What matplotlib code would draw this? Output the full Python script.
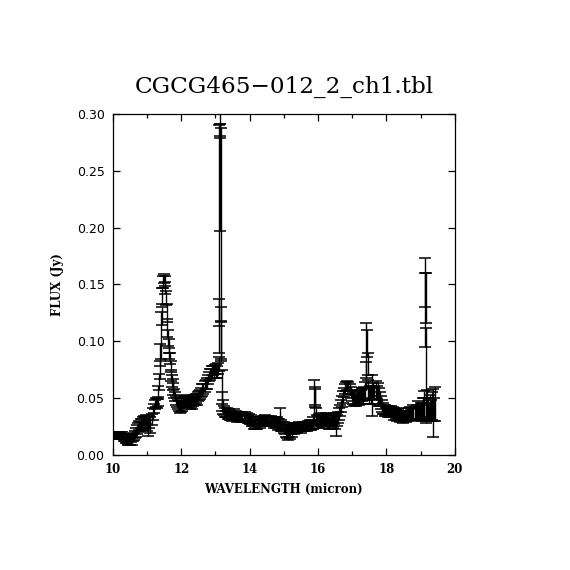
import matplotlib
matplotlib.use("Agg")
import matplotlib.pyplot as plt
from matplotlib.ticker import MultipleLocator

# wavelength (micron), flux (Jy) and 1-sigma error (Jy)
# continuum and 11.3 micron PAH feature
wave_a = [10.02, 10.05, 10.08, 10.11, 10.14, 10.17, 10.20, 10.23, 10.26, 10.29, 10.32,
          10.35, 10.38, 10.41, 10.44, 10.47, 10.50, 10.53, 10.56, 10.59, 10.62,
          10.65, 10.68, 10.71, 10.74, 10.77, 10.80, 10.83, 10.86, 10.89, 10.92, 10.95, 10.98,
          11.01, 11.04, 11.07, 11.10, 11.13, 11.16, 11.19, 11.22, 11.25, 11.28, 11.31]
flux_a = [0.017, 0.018, 0.016, 0.017, 0.018, 0.017, 0.016, 0.017, 0.018, 0.016, 0.015,
          0.015, 0.013, 0.014, 0.012, 0.013, 0.012, 0.014, 0.013, 0.015, 0.016,
          0.018, 0.020, 0.022, 0.024, 0.026, 0.025, 0.028, 0.027, 0.029, 0.030, 0.028, 0.031,
          0.027, 0.025, 0.029, 0.026, 0.031, 0.036, 0.041, 0.044, 0.046, 0.045, 0.047]
err_a = [0.002, 0.002, 0.002, 0.003, 0.002, 0.002, 0.002, 0.003, 0.002, 0.002, 0.003,
         0.003, 0.003, 0.004, 0.003, 0.004, 0.003, 0.003, 0.004, 0.003, 0.003,
         0.003, 0.004, 0.004, 0.004, 0.004, 0.004, 0.004, 0.005, 0.004, 0.004, 0.005, 0.004,
         0.006, 0.008, 0.005, 0.007, 0.005, 0.005, 0.004, 0.004, 0.004, 0.004, 0.004]

wave_b = [11.33, 11.35, 11.37, 11.39, 11.41, 11.43, 11.45, 11.47, 11.49, 11.51, 11.53,
          11.55, 11.57, 11.59, 11.61, 11.63, 11.65, 11.67, 11.69, 11.71, 11.73, 11.75,
          11.77, 11.79, 11.81,
          11.84, 11.87, 11.90, 11.93, 11.96, 11.99, 12.02, 12.05, 12.08, 12.11, 12.14, 12.17,
          12.20, 12.23, 12.26, 12.29, 12.32, 12.35, 12.38, 12.41, 12.44, 12.47, 12.50, 12.53]
flux_b = [0.055, 0.064, 0.075, 0.088, 0.105, 0.122, 0.140, 0.152, 0.155, 0.153, 0.147,
          0.138, 0.125, 0.112, 0.103, 0.096, 0.089, 0.085, 0.078, 0.070, 0.065, 0.062,
          0.058, 0.054, 0.051,
          0.048, 0.046, 0.044, 0.043, 0.042, 0.044, 0.043, 0.046, 0.047, 0.049, 0.048, 0.047,
          0.046, 0.045, 0.044, 0.046, 0.045, 0.047, 0.049, 0.048, 0.050, 0.049, 0.051, 0.052]
err_b = [0.006, 0.007, 0.008, 0.010, 0.021, 0.008, 0.007, 0.005, 0.004, 0.004, 0.005,
         0.006, 0.008, 0.008, 0.007, 0.006, 0.005, 0.005, 0.005, 0.005, 0.005, 0.005,
         0.005, 0.004, 0.004,
         0.004, 0.004, 0.004, 0.004, 0.005, 0.006, 0.004, 0.004, 0.004, 0.004, 0.004, 0.005,
         0.004, 0.004, 0.004, 0.004, 0.005, 0.004, 0.004, 0.004, 0.004, 0.005, 0.004, 0.004]

# rise towards 12.8 micron and the [NeII] line
wave_c = [12.56, 12.59, 12.62, 12.65, 12.68, 12.71, 12.74, 12.77, 12.80, 12.83, 12.86,
          12.89, 12.92, 12.95, 12.98, 13.01, 13.04, 13.07,
          13.09, 13.10, 13.11, 13.12, 13.13, 13.14, 13.15, 13.16, 13.17, 13.18, 13.20, 13.22]
flux_c = [0.053, 0.055, 0.057, 0.058, 0.060, 0.062, 0.063, 0.066, 0.069, 0.071, 0.072,
          0.073, 0.074, 0.073, 0.075, 0.074, 0.073, 0.076,
          0.080, 0.125, 0.190, 0.285, 0.295, 0.244, 0.186, 0.124, 0.100, 0.060, 0.047, 0.042]
err_c = [0.004, 0.004, 0.005, 0.004, 0.005, 0.004, 0.005, 0.004, 0.004, 0.005, 0.004,
         0.005, 0.004, 0.005, 0.004, 0.006, 0.005, 0.005,
         0.006, 0.012, 0.100, 0.006, 0.014, 0.047, 0.102, 0.006, 0.017, 0.015, 0.008, 0.006]

wave_d = [13.25, 13.28, 13.31, 13.34, 13.37, 13.40, 13.43, 13.46, 13.49, 13.52,
          13.55, 13.58, 13.61, 13.64, 13.67, 13.70, 13.73, 13.76, 13.79, 13.82,
          13.85, 13.88, 13.91, 13.94, 13.97, 14.00, 14.03,
          14.06, 14.09, 14.12, 14.15, 14.18, 14.21, 14.24, 14.27, 14.30, 14.33,
          14.36, 14.39, 14.42, 14.45, 14.48, 14.51, 14.54, 14.57, 14.60, 14.63,
          14.66, 14.69, 14.72, 14.75, 14.78, 14.81, 14.84, 14.87,
          14.90, 14.93, 14.96, 14.99, 15.02, 15.05, 15.08, 15.11, 15.14, 15.17,
          15.20, 15.23, 15.26, 15.29, 15.32, 15.35, 15.38]
flux_d = [0.039, 0.037, 0.036, 0.037, 0.035, 0.036, 0.034, 0.035, 0.034, 0.035,
          0.036, 0.034, 0.035, 0.033, 0.035, 0.034, 0.035, 0.033, 0.034, 0.033,
          0.034, 0.032, 0.033, 0.031, 0.032, 0.030, 0.031,
          0.029, 0.028, 0.027, 0.028, 0.026, 0.027, 0.028, 0.029, 0.028, 0.030,
          0.029, 0.031, 0.030, 0.031, 0.030, 0.029, 0.030, 0.028, 0.029, 0.030,
          0.029, 0.030, 0.028, 0.029, 0.028, 0.029, 0.027, 0.028,
          0.032, 0.026, 0.025, 0.024, 0.023, 0.021, 0.020, 0.019, 0.021, 0.020,
          0.022, 0.021, 0.023, 0.022, 0.024, 0.023, 0.024]
err_d = [0.004, 0.004, 0.003, 0.004, 0.003, 0.004, 0.003, 0.004, 0.004, 0.003,
         0.004, 0.003, 0.004, 0.004, 0.003, 0.004, 0.003, 0.004, 0.004, 0.003,
         0.004, 0.003, 0.004, 0.003, 0.004, 0.003, 0.004,
         0.004, 0.003, 0.004, 0.004, 0.003, 0.004, 0.003, 0.004, 0.004, 0.003,
         0.004, 0.003, 0.004, 0.004, 0.003, 0.004, 0.004, 0.003, 0.004, 0.004,
         0.004, 0.003, 0.004, 0.004, 0.004, 0.004, 0.005, 0.004,
         0.009, 0.005, 0.004, 0.005, 0.005, 0.005, 0.005, 0.006, 0.005, 0.006,
         0.004, 0.005, 0.004, 0.004, 0.004, 0.004, 0.004]

# 15.5 - 17 micron, with the 17 micron PAH bump
wave_e = [15.41, 15.44, 15.47, 15.50, 15.53, 15.56, 15.59, 15.62, 15.65, 15.68,
          15.71, 15.74, 15.77, 15.80, 15.83, 15.86,
          15.88, 15.90, 15.92, 15.94, 15.96,
          15.99, 16.02, 16.05, 16.08, 16.11, 16.14, 16.17, 16.20, 16.23, 16.26,
          16.29, 16.32, 16.35, 16.38, 16.41, 16.44, 16.47, 16.50, 16.53, 16.56,
          16.59, 16.62, 16.65, 16.68, 16.71, 16.74, 16.77, 16.80, 16.83, 16.86,
          16.89, 16.92, 16.95, 16.98]
flux_e = [0.024, 0.025, 0.024, 0.023, 0.024, 0.025, 0.024, 0.025, 0.026, 0.025,
          0.026, 0.025, 0.027, 0.026, 0.027, 0.028,
          0.047, 0.052, 0.050, 0.035, 0.030,
          0.029, 0.031, 0.030, 0.032, 0.030, 0.029, 0.031, 0.030, 0.032, 0.031,
          0.030, 0.029, 0.028, 0.030, 0.031, 0.030, 0.032, 0.029, 0.027, 0.030,
          0.033, 0.036, 0.039, 0.043, 0.047, 0.051, 0.055, 0.058, 0.060, 0.061,
          0.060, 0.058, 0.055, 0.052]
err_e = [0.003, 0.004, 0.003, 0.004, 0.003, 0.004, 0.003, 0.004, 0.003, 0.004,
         0.004, 0.003, 0.004, 0.004, 0.004, 0.005,
         0.019, 0.008, 0.008, 0.006, 0.005,
         0.005, 0.005, 0.004, 0.005, 0.005, 0.005, 0.004, 0.005, 0.005, 0.005,
         0.005, 0.006, 0.005, 0.005, 0.005, 0.006, 0.005, 0.006, 0.010, 0.005,
         0.005, 0.005, 0.005, 0.005, 0.005, 0.005, 0.004, 0.004, 0.004, 0.004,
         0.004, 0.004, 0.005, 0.005]

# 17 - 19 micron, with the H2 S(1) line
wave_f = [17.01, 17.04, 17.07, 17.10, 17.13, 17.16, 17.19, 17.22, 17.25, 17.28,
          17.31, 17.34, 17.37,
          17.39, 17.41, 17.43, 17.45, 17.47,
          17.50, 17.53, 17.56, 17.59, 17.62, 17.65, 17.68, 17.71, 17.74, 17.77,
          17.80, 17.83,
          17.86, 17.89, 17.92, 17.95, 17.98, 18.01, 18.04, 18.07, 18.10, 18.13,
          18.16, 18.19, 18.22, 18.25, 18.28, 18.31, 18.34, 18.37, 18.40, 18.43,
          18.46, 18.49, 18.52, 18.55, 18.58, 18.61, 18.64, 18.67, 18.70, 18.73,
          18.76, 18.79, 18.82, 18.85, 18.88, 18.91, 18.94, 18.97]
flux_f = [0.050, 0.048, 0.049, 0.048, 0.050, 0.051, 0.050, 0.052, 0.051, 0.053,
          0.052, 0.054, 0.056,
          0.070, 0.092, 0.098, 0.080, 0.058,
          0.052, 0.055, 0.053, 0.052, 0.056, 0.054, 0.057, 0.055, 0.053, 0.052,
          0.049, 0.046,
          0.043, 0.041, 0.040, 0.039, 0.038, 0.039, 0.038, 0.039, 0.037, 0.038,
          0.037, 0.038, 0.036, 0.037, 0.036, 0.035, 0.036, 0.035, 0.034, 0.035,
          0.034, 0.033, 0.034, 0.035, 0.034, 0.036, 0.035, 0.036, 0.037, 0.035,
          0.036, 0.038, 0.037, 0.036, 0.038, 0.039, 0.037, 0.038]
err_f = [0.005, 0.005, 0.005, 0.005, 0.005, 0.005, 0.006, 0.005, 0.006, 0.006,
         0.007, 0.006, 0.008,
         0.012, 0.024, 0.012, 0.010, 0.008,
         0.007, 0.006, 0.008, 0.018, 0.007, 0.006, 0.008, 0.006, 0.010, 0.007,
         0.006, 0.006,
         0.005, 0.005, 0.004, 0.005, 0.004, 0.004, 0.005, 0.004, 0.004, 0.005,
         0.004, 0.004, 0.005, 0.004, 0.004, 0.005, 0.004, 0.004, 0.005, 0.004,
         0.004, 0.005, 0.004, 0.004, 0.005, 0.005, 0.004, 0.005, 0.005, 0.005,
         0.005, 0.006, 0.005, 0.005, 0.006, 0.008, 0.006, 0.006]

# red end with the 19.1 micron line
wave_g = [19.00, 19.03, 19.06, 19.09, 19.11, 19.13, 19.14, 19.15, 19.17, 19.19,
          19.21, 19.24, 19.27, 19.30, 19.33, 19.36, 19.39, 19.42]
flux_g = [0.039, 0.038, 0.041, 0.040, 0.044, 0.134, 0.145, 0.138, 0.070, 0.045,
          0.040, 0.038, 0.042, 0.039, 0.043, 0.037, 0.040, 0.045]
err_g = [0.007, 0.008, 0.009, 0.010, 0.012, 0.039, 0.015, 0.022, 0.042, 0.012,
         0.010, 0.008, 0.011, 0.009, 0.012, 0.021, 0.010, 0.015]

wave = wave_a + wave_b + wave_c + wave_d + wave_e + wave_f + wave_g
flux = flux_a + flux_b + flux_c + flux_d + flux_e + flux_f + flux_g
err = err_a + err_b + err_c + err_d + err_e + err_f + err_g

title = "CGCG465\u2212012_2_ch1.tbl"

fig = plt.figure(figsize=(5.7, 5.7), dpi=100)
ax = fig.add_axes([0.198, 0.202, 0.600, 0.598])

ax.errorbar(wave, flux, yerr=err, fmt="none", ecolor="black",
            elinewidth=1.0, capsize=4, capthick=1.1)

ax.set_xlim(10, 20)
ax.set_ylim(0, 0.30)
ax.xaxis.set_major_locator(MultipleLocator(2))
ax.xaxis.set_minor_locator(MultipleLocator(1))
ax.yaxis.set_major_locator(MultipleLocator(0.05))
ax.tick_params(which="both", direction="in", top=True, right=True,
               width=0.9, colors="black")
ax.tick_params(which="major", length=5)
ax.tick_params(which="minor", length=3)
ax.tick_params(axis="x", pad=6)
ax.tick_params(axis="y", pad=6)
for s in ax.spines.values():
    s.set_linewidth(0.9)

ax.set_xticklabels([f"{v:g}" for v in ax.get_xticks()],
                   family="DejaVu Serif", weight="bold", fontsize=8.5)
ax.set_yticklabels([f"{v:.2f}" for v in ax.get_yticks()],
                   family="DejaVu Sans", fontsize=9)

ax.set_xlabel("WAVELENGTH (micron)", family="DejaVu Serif", weight="bold",
              fontsize=8.5, labelpad=5)
ax.set_ylabel("FLUX (Jy)", family="DejaVu Serif", weight="bold",
              fontsize=8.5, labelpad=9)
ax.set_title(title, family="DejaVu Serif", fontsize=16.7, pad=15)

fig.savefig("out.png", dpi=100, facecolor="white")
